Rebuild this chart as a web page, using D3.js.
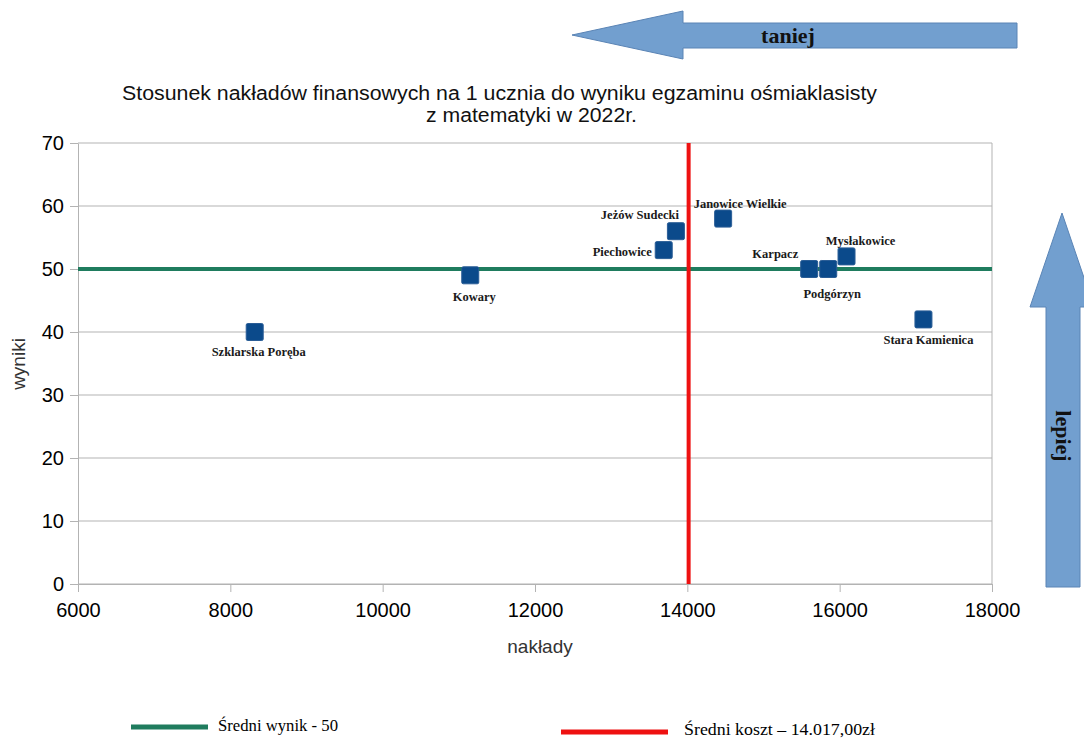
<html>
<head>
<meta charset="utf-8">
<title>Nakłady a wyniki</title>
<script src="https://d3js.org/d3.v7.min.js"></script>
<style>
body { margin: 0; background: #fff; }
svg text { font-family: "Liberation Sans", Arial, sans-serif; }
.grid line { stroke: #b3b3b3; stroke-width: 1; }
.axis path, .axis line { stroke: #b3b3b3; }
.axis text { font-size: 20px; fill: #000; font-family: "Liberation Sans", Arial, sans-serif; }
.lbl { font-family: "Liberation Serif", serif !important; font-weight: bold; font-size: 12.5px; fill: #1a1a1a; }
</style>
</head>
<body>
<div id="chart"></div>
<script>
// gminy and values
var towns = ["Szklarska Poręba", "Kowary", "Piechowice", "Jeżów Sudecki", "Janowice Wielkie",
             "Karpacz", "Podgórzyn", "Mysłakowice", "Stara Kamienica"];
var costs = [8320, 11150, 13690, 13850, 14470, 15600, 15850, 16090, 17100];
var scores = [40, 49, 53, 56, 58, 50, 50, 52, 42];
var avgScore = 50;
var avgCost = 14017;
var xTicks = [6000, 8000, 10000, 12000, 14000, 16000, 18000];
var yTicks = [0, 10, 20, 30, 40, 50, 60, 70];

// where each label sits relative to its marker
var labelPos = [
  {anchor: "middle", dx: 4, dy: 24},
  {anchor: "middle", dx: 4, dy: 26},
  {anchor: "end", dx: -12, dy: 6},
  {anchor: "middle", dx: -36, dy: -12},
  {anchor: "middle", dx: 17, dy: -11},
  {anchor: "end", dx: -11, dy: -11},
  {anchor: "middle", dx: 4, dy: 29},
  {anchor: "middle", dx: 14, dy: -11},
  {anchor: "middle", dx: 5, dy: 25}
];

var svg = d3.select("#chart").append("svg")
  .attr("width", 1084)
  .attr("height", 738);

var pLeft = 78, pRight = 992, pTop = 143, pBottom = 584;

var x = d3.scaleLinear().domain([6000, 18000]).range([pLeft, pRight]);
var y = d3.scaleLinear().domain([0, 70]).range([pBottom, pTop]);

// title
svg.append("text")
  .attr("x", 122).attr("y", 100)
  .attr("textLength", 755).attr("lengthAdjust", "spacingAndGlyphs")
  .style("font-size", "20px").style("fill", "#111")
  .text("Stosunek nakładów finansowych na 1 ucznia  do wyniku egzaminu ośmiaklasisty");
svg.append("text")
  .attr("x", 426).attr("y", 122)
  .attr("textLength", 211).attr("lengthAdjust", "spacingAndGlyphs")
  .style("font-size", "20px").style("fill", "#111")
  .text("z matematyki w 2022r.");

// horizontal grid
svg.append("g").attr("class", "grid")
  .selectAll("line").data(yTicks).enter().append("line")
  .attr("x1", pLeft).attr("x2", pRight)
  .attr("y1", function(d) { return y(d); })
  .attr("y2", function(d) { return y(d); });

// right border
svg.append("line")
  .attr("x1", pRight).attr("x2", pRight).attr("y1", pTop).attr("y2", pBottom)
  .attr("stroke", "#b3b3b3");

// axes
svg.append("g").attr("class", "axis")
  .attr("transform", "translate(0," + pBottom + ")")
  .call(d3.axisBottom(x).tickValues(xTicks).tickSize(8).tickSizeOuter(0).tickPadding(11).tickFormat(d3.format("d")));

svg.append("g").attr("class", "axis")
  .attr("transform", "translate(" + pLeft + ",0)")
  .call(d3.axisLeft(y).tickValues(yTicks).tickSize(8).tickSizeOuter(0).tickPadding(6));

svg.selectAll(".axis .domain").attr("stroke", "#b3b3b3");

// axis titles
svg.append("text")
  .attr("x", 540).attr("y", 653)
  .attr("text-anchor", "middle")
  .style("font-size", "19px").style("fill", "#333")
  .text("nakłady");
svg.append("text")
  .attr("transform", "translate(25,364) rotate(-90)")
  .attr("text-anchor", "middle")
  .style("font-size", "19px").style("fill", "#333")
  .text("wyniki");

// average lines
svg.append("line")
  .attr("x1", pLeft).attr("x2", pRight)
  .attr("y1", y(avgScore)).attr("y2", y(avgScore))
  .attr("stroke", "#1f7c5e").attr("stroke-width", 4);
svg.append("line")
  .attr("x1", x(avgCost)).attr("x2", x(avgCost))
  .attr("y1", pTop).attr("y2", pBottom)
  .attr("stroke", "#ee1111").attr("stroke-width", 4);

// markers
var pts = towns.map(function(t, i) { return {town: t, cost: costs[i], score: scores[i], pos: labelPos[i]}; });

svg.selectAll(".pt").data(pts).enter().append("rect")
  .attr("class", "pt")
  .attr("x", function(d) { return x(d.cost) - 8.5; })
  .attr("y", function(d) { return y(d.score) - 8.5; })
  .attr("width", 17).attr("height", 17)
  .attr("rx", 1.5)
  .attr("fill", "#0b4a8b")
  .attr("stroke", "#2a5d96").attr("stroke-width", 1);

svg.selectAll(".lbl").data(pts).enter().append("text")
  .attr("class", "lbl")
  .attr("x", function(d) { return x(d.cost) + d.pos.dx; })
  .attr("y", function(d) { return y(d.score) + d.pos.dy; })
  .attr("text-anchor", function(d) { return d.pos.anchor; })
  .text(function(d) { return d.town; });

// arrow "taniej"
svg.append("path")
  .attr("d", "M572,35 L683,11 L683,23 L1017,23 L1017,48 L683,48 L683,59 Z")
  .attr("fill", "#729fcf").attr("stroke", "#5a84b5").attr("stroke-width", 1);
svg.append("text")
  .attr("x", 788).attr("y", 43)
  .attr("text-anchor", "middle")
  .style("font-family", "'Liberation Serif', serif")
  .style("font-weight", "bold").style("font-size", "22px").style("fill", "#111")
  .text("taniej");

// arrow "lepiej"
svg.append("path")
  .attr("d", "M1062,213 L1094,307 L1080,307 L1080,587 L1046,587 L1046,307 L1030,307 Z")
  .attr("fill", "#729fcf").attr("stroke", "#5a84b5").attr("stroke-width", 1);
svg.append("text")
  .attr("transform", "translate(1056,436) rotate(90)")
  .attr("text-anchor", "middle")
  .style("font-family", "'Liberation Serif', serif")
  .style("font-weight", "bold").style("font-size", "22px").style("fill", "#111")
  .text("lepiej");

// legend
svg.append("line")
  .attr("x1", 131).attr("x2", 208).attr("y1", 727).attr("y2", 727)
  .attr("stroke", "#1f7c5e").attr("stroke-width", 5);
svg.append("text")
  .attr("x", 218).attr("y", 731)
  .attr("textLength", 120).attr("lengthAdjust", "spacingAndGlyphs")
  .style("font-family", "'Liberation Serif', serif").style("font-size", "17px")
  .text("Średni wynik - 50");
svg.append("line")
  .attr("x1", 561).attr("x2", 668).attr("y1", 732).attr("y2", 732)
  .attr("stroke", "#ee1111").attr("stroke-width", 5);
svg.append("text")
  .attr("x", 684).attr("y", 735)
  .attr("textLength", 191).attr("lengthAdjust", "spacingAndGlyphs")
  .style("font-family", "'Liberation Serif', serif").style("font-size", "16px")
  .text("Średni koszt – 14.017,00zł");
</script>
</body>
</html>
